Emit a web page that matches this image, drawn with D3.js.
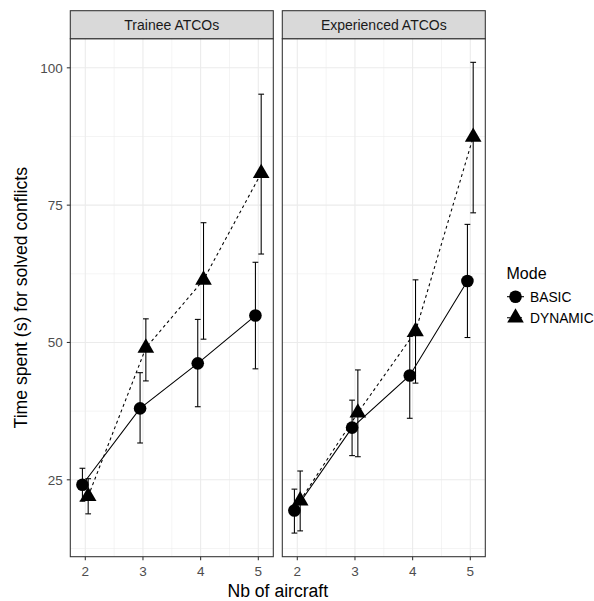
<!DOCTYPE html>
<html><head><meta charset="utf-8">
<script src="https://cdn.jsdelivr.net/npm/d3@7"></script>
<style>body{margin:0;background:#fff}svg{display:block}text{font-family:"Liberation Sans",Arial,Helvetica,sans-serif}</style>
</head><body><svg id="c" width="594" height="601"></svg>
<script>
const panels = ["Trainee ATCOs", "Experienced ATCOs"];
const modes = ["BASIC", "DYNAMIC"];
const aircraft = [2, 3, 4, 5];
const yTicks = [25, 50, 75, 100];
// Trainee
const traineeBasic      = [24.1, 38.0, 46.2, 54.9];
const traineeBasicLo    = [21.1, 31.7, 38.3, 45.2];
const traineeBasicHi    = [27.1, 44.5, 54.2, 64.6];
const traineeDynamic    = [22.0, 49.0, 61.4, 80.8];
const traineeDynamicLo  = [18.8, 43.0, 50.6, 66.1];
const traineeDynamicHi  = [25.2, 54.3, 71.8, 95.2];
// Experienced
const expBasic      = [19.4, 34.5, 44.0, 61.2];
const expBasicLo    = [15.3, 29.4, 36.2, 50.9];
const expBasicHi    = [23.3, 39.5, 51.1, 71.5];
const expDynamic    = [21.2, 37.2, 52.0, 87.4];
const expDynamicLo  = [15.7, 29.2, 42.6, 73.6];
const expDynamicHi  = [26.6, 45.0, 61.4, 101.0];

const data = [
  {panel: panels[0], series: [
    {mode: modes[0], v: traineeBasic, lo: traineeBasicLo, hi: traineeBasicHi},
    {mode: modes[1], v: traineeDynamic, lo: traineeDynamicLo, hi: traineeDynamicHi}]},
  {panel: panels[1], series: [
    {mode: modes[0], v: expBasic, lo: expBasicLo, hi: expBasicHi},
    {mode: modes[1], v: expDynamic, lo: expDynamicLo, hi: expDynamicHi}]}
];

const svg = d3.select("#c");
const pTop = 38.7, pBottom = 556.7, stripTop = 10.7;
const panelX = [[70.3, 273.3], [282.3, 485.3]];
const y = d3.scaleLinear().domain([11.0, 105.3]).range([pBottom, pTop]);
const dodge = {BASIC: -0.05, DYNAMIC: 0.05};
const grid = "#ebebeb", border = "#333333";

data.forEach((pd, pi) => {
  const [x0, x1] = panelX[pi];
  const x = d3.scaleLinear().domain([1.74, 5.26]).range([x0, x1]);
  const g = svg.append("g");
  // minor grid
  [12.5, 37.5, 62.5, 87.5].forEach(v => g.append("line").attr("x1", x0).attr("x2", x1)
    .attr("y1", y(v)).attr("y2", y(v)).attr("stroke", grid).attr("stroke-width", 0.55));
  [2.5, 3.5, 4.5].forEach(v => g.append("line").attr("y1", pTop).attr("y2", pBottom)
    .attr("x1", x(v)).attr("x2", x(v)).attr("stroke", grid).attr("stroke-width", 0.55));
  // major grid
  yTicks.forEach(v => g.append("line").attr("x1", x0).attr("x2", x1)
    .attr("y1", y(v)).attr("y2", y(v)).attr("stroke", grid).attr("stroke-width", 1.1));
  aircraft.forEach(v => g.append("line").attr("y1", pTop).attr("y2", pBottom)
    .attr("x1", x(v)).attr("x2", x(v)).attr("stroke", grid).attr("stroke-width", 1.1));

  // error bars
  pd.series.forEach(s => {
    aircraft.forEach((a, i) => {
      const cx = x(a + dodge[s.mode]);
      const hw = x(0.05) - x(0);
      g.append("line").attr("x1", cx).attr("x2", cx).attr("y1", y(s.lo[i])).attr("y2", y(s.hi[i]))
        .attr("stroke", "#000").attr("stroke-width", 1.07);
      [s.lo[i], s.hi[i]].forEach(v => g.append("line").attr("x1", cx - hw).attr("x2", cx + hw)
        .attr("y1", y(v)).attr("y2", y(v)).attr("stroke", "#000").attr("stroke-width", 1.07));
    });
  });
  // lines
  pd.series.forEach(s => {
    const line = d3.line().x((d, i) => x(aircraft[i] + dodge[s.mode])).y(d => y(d));
    g.append("path").attr("d", line(s.v)).attr("fill", "none").attr("stroke", "#000")
      .attr("stroke-width", 1.07).attr("stroke-dasharray", s.mode === "DYNAMIC" ? "3,3" : null);
  });
  // points
  pd.series.forEach(s => {
    aircraft.forEach((a, i) => {
      const cx = x(a + dodge[s.mode]), cy = y(s.v[i]);
      if (s.mode === "BASIC") {
        g.append("circle").attr("cx", cx).attr("cy", cy).attr("r", 6.3).attr("fill", "#000");
      } else {
        g.append("path").attr("d", d3.symbol(d3.symbolTriangle, 120)())
          .attr("transform", `translate(${cx},${cy})`).attr("fill", "#000");
      }
    });
  });
  // border
  g.append("rect").attr("x", x0).attr("y", pTop).attr("width", x1 - x0).attr("height", pBottom - pTop)
    .attr("fill", "none").attr("stroke", border).attr("stroke-width", 1.07);
  // strip
  g.append("rect").attr("x", x0).attr("y", stripTop).attr("width", x1 - x0).attr("height", pTop - stripTop)
    .attr("fill", "#d9d9d9").attr("stroke", border).attr("stroke-width", 1.07);
  g.append("text").attr("x", (x0 + x1) / 2).attr("y", 30)
    .attr("text-anchor", "middle").attr("font-size", 14).attr("fill", "#1a1a1a").text(pd.panel);
  // x axis
  aircraft.forEach(a => {
    g.append("line").attr("x1", x(a)).attr("x2", x(a)).attr("y1", pBottom).attr("y2", pBottom + 3.5)
      .attr("stroke", border).attr("stroke-width", 1.07);
    g.append("text").attr("x", x(a)).attr("y", 575.5).attr("text-anchor", "middle")
      .attr("font-size", 13.5).attr("fill", "#4d4d4d").text(a);
  });
  if (pi === 0) {
    yTicks.forEach(v => {
      g.append("line").attr("x1", x0 - 3.5).attr("x2", x0).attr("y1", y(v)).attr("y2", y(v))
        .attr("stroke", border).attr("stroke-width", 1.07);
      g.append("text").attr("x", x0 - 7.5).attr("y", y(v) + 4.8).attr("text-anchor", "end")
        .attr("font-size", 13.5).attr("fill", "#4d4d4d").text(v);
    });
  }
});

// axis titles
svg.append("text").attr("x", (panelX[0][0] + panelX[1][1]) / 2).attr("y", 597.3)
  .attr("text-anchor", "middle").attr("font-size", 17.6).attr("fill", "#000").text("Nb of aircraft");
svg.append("text").attr("transform", `translate(26.5,${(pTop + pBottom) / 2}) rotate(-90)`)
  .attr("text-anchor", "middle").attr("font-size", 17.6).attr("fill", "#000")
  .text("Time spent (s) for solved conflicts");

// legend
const lg = svg.append("g");
lg.append("text").attr("x", 506.5).attr("y", 279.3).attr("font-size", 16).text("Mode");
const keyY = [296.7, 317.8];
modes.forEach((m, i) => {
  const cy = keyY[i];
  lg.append("line").attr("x1", 507).attr("x2", 524).attr("y1", cy).attr("y2", cy).attr("stroke", "#000")
    .attr("stroke-width", 1.07).attr("stroke-dasharray", m === "DYNAMIC" ? "3,3" : null);
  if (m === "BASIC") lg.append("circle").attr("cx", 515.5).attr("cy", cy).attr("r", 6.3).attr("fill", "#000");
  else lg.append("path").attr("d", d3.symbol(d3.symbolTriangle, 120)()).attr("transform", `translate(515.5,${cy})`).attr("fill", "#000");
  lg.append("text").attr("x", 530).attr("y", cy + 5.5).attr("font-size", 13.8).text(m);
});
</script></body></html>
